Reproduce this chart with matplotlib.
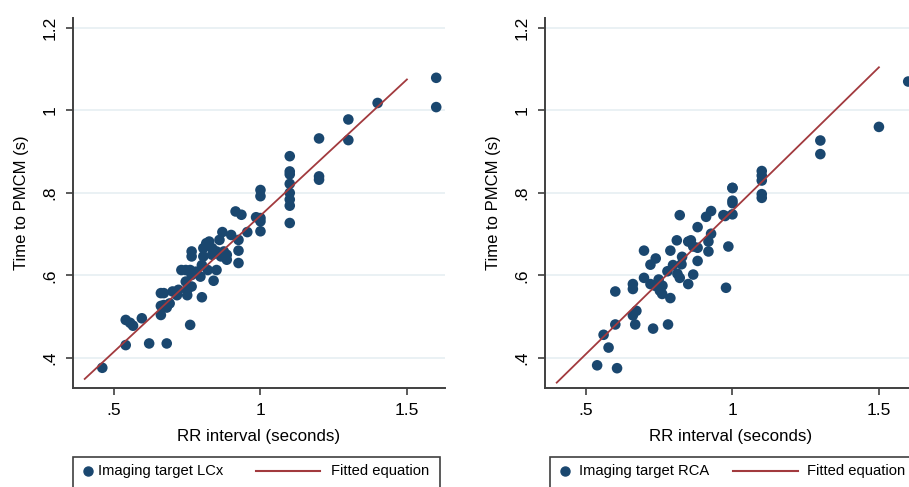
import matplotlib
matplotlib.use("Agg")
import matplotlib.pyplot as plt
from matplotlib.patches import Rectangle

plt.rcParams['font.family'] = ['Liberation Sans', 'DejaVu Sans']

# LCx panel: RR interval (s) vs time to PMCM (s)
lcx_rr = [0.46, 0.54, 0.62, 0.68, 0.54, 0.555, 0.565, 0.595, 0.66, 0.76,
          0.66, 0.67, 0.68, 0.69, 0.66, 0.67, 0.70, 0.715, 0.72, 0.75,
          0.75, 0.765, 0.745, 0.80, 0.73, 0.745, 0.76, 0.765, 0.78, 0.795,
          0.80, 0.82, 0.84, 0.85, 0.765, 0.765, 0.805, 0.805, 0.815, 0.825,
          0.835, 0.835, 0.86, 0.87, 0.90, 0.85, 0.865, 0.875, 0.885, 0.885,
          0.925, 0.925, 0.925, 0.915, 0.935, 0.955, 0.985, 1.0, 1.0, 1.0,
          1.0, 1.0, 1.1, 1.1, 1.1, 1.1, 1.1, 1.1, 1.1, 1.1,
          1.2, 1.2, 1.2, 1.3, 1.3, 1.4, 1.6, 1.6]
lcx_pmcm = [0.376, 0.431, 0.435, 0.435, 0.492, 0.485, 0.478, 0.496, 0.504, 0.480,
            0.526, 0.528, 0.522, 0.532, 0.557, 0.557, 0.561, 0.552, 0.565, 0.552,
            0.565, 0.573, 0.585, 0.547, 0.613, 0.613, 0.613, 0.601, 0.609, 0.597,
            0.625, 0.613, 0.587, 0.613, 0.658, 0.646, 0.666, 0.646, 0.678, 0.682,
            0.666, 0.650, 0.686, 0.705, 0.698, 0.658, 0.646, 0.658, 0.650, 0.638,
            0.686, 0.660, 0.630, 0.755, 0.747, 0.705, 0.741, 0.739, 0.731, 0.707,
            0.807, 0.792, 0.889, 0.852, 0.845, 0.822, 0.800, 0.784, 0.769, 0.727,
            0.932, 0.840, 0.832, 0.978, 0.928, 1.018, 1.079, 1.008]

# RCA panel
rca_rr = [0.538, 0.606, 0.577, 0.56, 0.60, 0.60, 0.66, 0.66, 0.66, 0.672,
          0.668, 0.729, 0.78, 0.698, 0.698, 0.72, 0.738, 0.72, 0.735, 0.748,
          0.761, 0.752, 0.76, 0.788, 0.778, 0.788, 0.797, 0.812, 0.82, 0.826,
          0.81, 0.82, 0.828, 0.849, 0.849, 0.858, 0.866, 0.866, 0.881, 0.881,
          0.881, 0.918, 0.918, 0.927, 0.91, 0.927, 0.969, 0.975, 0.986, 0.978,
          1.0, 1.0, 1.0, 1.0, 1.0, 1.1, 1.1, 1.1, 1.1, 1.1,
          1.3, 1.3, 1.5, 1.6]
rca_pmcm = [0.382, 0.375, 0.425, 0.456, 0.481, 0.561, 0.579, 0.567, 0.503, 0.514,
            0.481, 0.471, 0.481, 0.594, 0.660, 0.626, 0.641, 0.579, 0.575, 0.590,
            0.575, 0.563, 0.555, 0.545, 0.610, 0.660, 0.625, 0.604, 0.594, 0.627,
            0.685, 0.746, 0.645, 0.579, 0.682, 0.685, 0.670, 0.602, 0.635, 0.667,
            0.717, 0.682, 0.658, 0.701, 0.742, 0.756, 0.746, 0.744, 0.670, 0.570,
            0.812, 0.781, 0.775, 0.748, 0.812, 0.853, 0.842, 0.830, 0.797, 0.788,
            0.927, 0.894, 0.960, 1.070]

# fitted equations (intercept, slope), drawn over RR 0.4 .. 1.5
lcx_fit = (0.085, 0.66)
rca_fit = (0.062, 0.695)
fit_x = [0.4, 1.5]

x_ticks = [0.5, 1.0, 1.5]
x_labels = ['.5', '1', '1.5']
y_ticks = [0.4, 0.6, 0.8, 1.0, 1.2]
y_labels = ['.4', '.6', '.8', '1', '1.2']

navy = '#1a476f'
maroon = '#a23a3e'
grid_c = '#e6eff2'
spine_c = '#404040'

fig = plt.figure(figsize=(9.09, 4.87), dpi=100)
ax1 = fig.add_axes([73 / 909, 99 / 487, 372 / 909, 370 / 487])
ax2 = fig.add_axes([545 / 909, 99 / 487, 372 / 909, 370 / 487])

# legend layout in axes fractions: box left, box right, dot x, label x, line x0, x1, label2 x
panels = [(ax1, lcx_rr, lcx_pmcm, lcx_fit, 'Imaging target LCx',
           (0.0, 0.987, 0.040, 0.068, 0.492, 0.664, 0.694)),
          (ax2, rca_rr, rca_pmcm, rca_fit, 'Imaging target RCA',
           (0.013, 1.0, 0.054, 0.091, 0.505, 0.68, 0.705))]

for ax, xs, ys, fit, name, lg in panels:
    ax.set_xlim(0.36, 1.63)
    ax.set_ylim(0.327, 1.224)
    for yt in y_ticks:
        ax.axhline(yt, color=grid_c, lw=1.2, zorder=0)
    ax.scatter(xs, ys, s=58, color=navy, edgecolors='none', zorder=3)
    fy = [fit[0] + fit[1] * v for v in fit_x]
    ax.plot(fit_x, fy, color=maroon, lw=1.3, zorder=4)

    ax.set_xticks(x_ticks)
    ax.set_xticklabels(x_labels)
    ax.set_yticks(y_ticks)
    ax.set_yticklabels(y_labels, rotation=90, va='center')
    ax.tick_params(axis='both', direction='out', length=5, width=1.2,
                   color=spine_c, labelsize=12.5, pad=6)
    ax.spines['top'].set_visible(False)
    ax.spines['right'].set_visible(False)
    for s in ['left', 'bottom']:
        ax.spines[s].set_color(spine_c)
        ax.spines[s].set_linewidth(1.4)
    ax.set_xlabel('RR interval (seconds)', fontsize=12.2, labelpad=8)
    ax.set_ylabel('Time to PMCM (s)', fontsize=12, labelpad=10)

    # legend box (drawn by hand, bottom runs off the figure like the original)
    b0, b1, dx, tx, l0, l1, t2 = lg
    top, yc = -0.186, -0.224
    ax.add_patch(Rectangle((b0, top - 0.15), b1 - b0, 0.15, transform=ax.transAxes,
                           facecolor='white', edgecolor=spine_c, lw=1.2,
                           clip_on=False))
    ax.plot([dx], [yc], 'o', color=navy, markersize=6.5, transform=ax.transAxes,
            clip_on=False)
    ax.text(tx, yc, name, transform=ax.transAxes, fontsize=10.6, va='center')
    ax.plot([l0, l1], [yc, yc], color=maroon, lw=1.5, transform=ax.transAxes,
            clip_on=False)
    ax.text(t2, yc, 'Fitted equation', transform=ax.transAxes, fontsize=10.6,
            va='center')

fig.savefig('out.png', dpi=100)
